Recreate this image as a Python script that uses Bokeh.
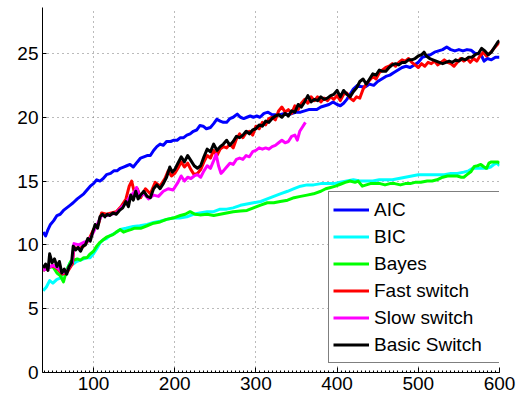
from bokeh.plotting import figure
from bokeh.models import SingleIntervalTicker, Range1d
from bokeh.embed import file_html
from bokeh.resources import INLINE

# ---------------- data ----------------
series_names = ["AIC", "BIC", "Bayes", "Fast switch", "Slow switch", "Basic Switch"]
series_colors = ["#0000ff", "#00ffff", "#00ff00", "#ff0000", "#ff00ff", "#000000"]

aic_x = [38, 41, 44, 47, 51, 55, 59, 63, 67, 71, 75, 80, 84, 88, 92, 96, 100, 104, 108, 112, 116,
         121, 125, 129, 133, 137, 141, 145, 149, 154, 158, 162, 166, 170, 174, 178, 182, 186, 190,
         195, 199, 203, 207, 211, 215, 219, 223, 227, 231, 235, 239, 244, 248, 252, 256, 260, 264,
         268, 272, 277, 281, 285, 289, 293, 297, 301, 305, 310, 315, 320, 325, 330, 335, 340, 345,
         350, 355, 360, 365, 370, 375, 380, 385, 390, 395, 400, 404, 408, 412, 416, 420, 425, 430,
         435, 440, 445, 450, 455, 460, 465, 470, 475, 480, 485, 490, 495, 500, 505, 510, 515, 520,
         525, 530, 535, 540, 545, 550, 555, 560, 565, 570, 574, 578, 581, 585, 590, 595, 600]
aic_y = [11.0, 10.7, 11.2, 11.6, 11.9, 12.3, 12.4, 12.7, 12.9, 13.1, 13.3, 13.6, 13.8, 14.0, 14.3,
         14.6, 14.8, 15.1, 15.0, 15.2, 15.5, 15.6, 15.8, 15.8, 16.0, 16.1, 16.2, 16.3, 16.1, 16.5,
         16.8, 16.9, 17.0, 17.0, 17.4, 17.7, 17.9, 17.8, 18.1, 18.1, 18.2, 18.2, 18.4, 18.4, 18.6,
         18.7, 18.9, 19.0, 19.35, 19.3, 19.1, 19.2, 19.5, 19.85, 19.7, 19.6, 19.6, 19.9, 20.0, 20.25,
         20.0, 19.9, 20.0, 20.1, 20.0, 20.1, 20.0, 20.3, 20.4, 20.2, 20.2, 20.2, 20.3, 20.2, 20.3,
         20.4, 20.4, 20.5, 20.6, 20.6, 20.6, 20.8, 20.9, 21.0, 21.2, 21.0, 20.9, 21.1, 21.4, 21.8,
         22.2, 22.5, 22.4, 22.4, 22.6, 22.5, 22.8, 23.0, 23.2, 23.3, 23.5, 23.7, 23.9, 24.0, 23.9,
         24.1, 24.3, 24.7, 24.8, 24.9, 25.1, 25.2, 25.3, 25.5, 25.3, 25.2, 25.3, 25.2, 25.3, 25.25,
         25.0, 25.0, 24.8, 24.4, 24.6, 24.5, 24.7, 24.7]

bic_x = [38, 42, 46, 50, 55, 59, 63, 67, 71, 75, 79, 84, 88, 92, 96, 100, 104, 108, 112, 116, 120,
         126, 133, 140, 149, 157, 166, 174, 182, 190, 198, 206, 215, 223, 231, 240, 248, 256, 264,
         272, 281, 289, 297, 306, 314, 322, 330, 339, 347, 355, 363, 371, 380, 388, 396, 404, 412,
         420, 428, 436, 444, 452, 460, 468, 476, 484, 492, 500, 508, 516, 524, 532, 540, 548, 556,
         562, 567, 572, 578, 584, 589, 593, 597, 600]
bic_y = [6.4, 6.7, 7.2, 7.0, 7.3, 7.4, 7.8, 8.0, 8.6, 8.5, 8.7, 8.8, 8.9, 9.0, 9.0, 9.3, 9.7, 10.15,
         10.4, 10.5, 10.7, 10.9, 11.2, 11.3, 11.45, 11.5, 11.6, 11.75, 11.85, 12.0, 12.1, 12.1, 12.2,
         12.4, 12.5, 12.6, 12.6, 12.8, 12.8, 12.9, 13.1, 13.2, 13.3, 13.4, 13.6, 13.8, 14.0, 14.2,
         14.4, 14.6, 14.7, 14.7, 14.8, 14.8, 14.8, 14.9, 15.0, 15.1, 15.0, 15.0, 15.0, 15.1, 15.1,
         15.1, 15.2, 15.3, 15.4, 15.5, 15.5, 15.5, 15.5, 15.5, 15.6, 15.6, 15.7, 15.8, 16.0, 16.0,
         16.0, 16.0, 16.1, 16.3, 16.4, 16.2]

bayes_x = [38, 44, 50, 55, 59, 63, 66, 69, 72, 76, 80, 84, 88, 92, 96, 100, 104, 108, 112, 116, 120,
           124, 128, 133, 137, 141, 146, 150, 158, 166, 174, 182, 190, 198, 207, 213, 219, 225, 231,
           240, 248, 256, 264, 272, 281, 289, 297, 305, 314, 322, 330, 339, 347, 355, 363, 371, 380,
           386, 392, 398, 404, 410, 416, 422, 426, 431, 436, 441, 447, 453, 459, 465, 471, 478, 484,
           490, 496, 503, 511, 517, 523, 530, 536, 542, 548, 553, 556, 560, 565, 569, 573, 577, 581,
           584, 587, 590, 594, 598, 600]
bayes_y = [8.0, 8.2, 8.3, 7.8, 7.6, 7.1, 7.8, 8.3, 8.7, 8.8, 8.9, 8.8, 9.0, 9.0, 9.3, 9.5, 9.9, 10.2,
           10.4, 10.6, 10.7, 10.8, 11.0, 11.2, 11.0, 11.1, 11.2, 11.3, 11.3, 11.5, 11.7, 11.8, 12.0,
           12.1, 12.3, 12.4, 12.6, 12.4, 12.35, 12.4, 12.3, 12.4, 12.5, 12.6, 12.65, 12.7, 12.9, 13.1,
           13.3, 13.3, 13.4, 13.5, 13.7, 13.8, 13.9, 14.0, 14.2, 14.4, 14.5, 14.6, 14.75, 14.9, 15.0,
           14.9, 15.0, 14.6, 14.7, 14.8, 14.8, 14.8, 14.7, 14.8, 14.8, 14.7, 14.8, 14.8, 14.9, 14.9,
           15.0, 15.0, 15.1, 15.3, 15.4, 15.4, 15.4, 15.3, 15.3, 15.5, 15.75, 16.15, 16.2, 16.3, 16.1,
           16.0, 16.4, 16.5, 16.5, 16.5, 16.4]

fast_x = [38, 44, 50, 56, 62, 68, 74, 76, 82, 88, 94, 100, 106, 110, 116, 122, 128, 134, 140, 144,
          147, 150, 154, 158, 164, 170, 176, 182, 188, 192, 196, 200, 204, 208, 212, 216, 220, 224,
          228, 232, 236, 240, 244, 248, 252, 256, 260, 264, 268, 272, 276, 280, 284, 288, 292, 296,
          300, 304, 308, 312, 316, 320, 324, 328, 332, 336, 340, 344, 348, 352, 356, 360, 364, 368,
          372, 376, 380, 384, 388, 392, 396, 400, 404, 408, 412, 416, 420, 424, 428, 432, 436, 440,
          444, 448, 452, 456, 460, 464, 468, 472, 476, 480, 484, 488, 492, 496, 500, 504, 508, 512,
          516, 520, 524, 528, 532, 536, 540, 544, 548, 552, 556, 560, 564, 568, 572, 576, 580, 584,
          588, 592, 596, 600]
fast_y = [8.0, 8.2, 8.4, 8.1, 7.7, 7.9, 8.5, 9.8, 9.7, 9.9, 10.4, 11.2, 11.6, 12.5, 12.4, 12.5, 12.6,
          13.0, 13.6, 14.6, 15.0, 14.2, 14.4, 13.7, 14.4, 14.0, 14.9, 14.6, 15.2, 15.8, 15.4, 15.6,
          16.0, 16.5, 16.1, 16.4, 15.9, 15.5, 15.6, 15.9, 16.5, 17.0, 16.8, 17.4, 17.0, 17.5, 17.7,
          17.6, 17.9, 17.6, 18.3, 18.7, 18.4, 18.8, 18.9, 18.6, 19.3, 19.1, 19.6, 19.4, 19.9, 20.0,
          19.8, 20.5, 20.8, 20.4, 20.6, 20.3, 20.9, 20.6, 21.1, 21.4, 21.1, 21.6, 21.3, 21.6, 21.2,
          21.5, 21.3, 21.6, 21.4, 21.7, 21.3, 21.8, 21.9, 21.5, 21.3, 21.6, 21.5, 22.2, 22.6, 22.9,
          23.2, 23.0, 23.5, 23.7, 23.9, 24.0, 24.2, 24.0, 24.3, 24.5, 24.4, 24.6, 24.3, 24.1, 23.9,
          24.2, 24.0, 24.3, 24.2, 24.4, 24.1, 24.3, 24.5, 24.3, 24.2, 24.0, 24.3, 24.6, 24.4, 24.6,
          24.3, 24.6, 24.4, 24.8, 25.1, 24.8, 25.0, 25.3, 25.6, 25.9]

slow_x = [38, 44, 50, 56, 62, 68, 74, 76, 82, 88, 94, 100, 106, 110, 116, 122, 128, 134, 140, 146,
          150, 153, 157, 162, 168, 174, 180, 186, 192, 198, 204, 208, 212, 216, 220, 224, 228, 232,
          236, 240, 244, 248, 251, 254, 257, 260, 264, 268, 272, 276, 280, 284, 288, 292, 296, 300,
          304, 308, 312, 316, 320, 324, 328, 332, 336, 340, 344, 348, 351, 354, 357, 361]
slow_y = [8.0, 8.2, 8.4, 8.2, 7.8, 8.0, 8.7, 10.1, 10.0, 10.2, 10.3, 11.0, 11.8, 12.3, 12.3, 12.4,
          12.5, 12.9, 13.3, 13.9, 14.1, 14.5, 13.8, 14.0, 13.6, 13.9, 13.8, 14.2, 14.4, 14.3, 14.9,
          15.4, 15.0, 15.3, 15.2, 15.4, 15.5, 15.3, 15.8, 16.2, 16.0, 16.6, 17.1, 16.2, 15.6, 15.8,
          16.1, 16.4, 16.3, 16.7, 16.8, 16.7, 17.0, 16.9, 17.3, 17.4, 17.6, 17.5, 17.6, 17.5, 17.7,
          17.8, 18.0, 18.2, 18.0, 18.1, 18.5, 18.6, 18.2, 18.9, 19.2, 19.6]

basic_x = [38, 41, 44, 46, 49, 52, 55, 58, 61, 64, 67, 70, 73, 75, 78, 81, 84, 87, 90, 93, 96, 99,
           102, 105, 108, 111, 114, 117, 120, 124, 128, 132, 136, 140, 143, 146, 149, 152, 155, 158,
           162, 166, 170, 174, 178, 182, 186, 190, 194, 197, 200, 204, 208, 212, 216, 220, 224, 228,
           232, 236, 240, 244, 248, 252, 256, 260, 264, 268, 272, 276, 280, 284, 288, 292, 296, 300,
           304, 308, 312, 316, 320, 324, 328, 332, 336, 340, 344, 348, 352, 356, 360, 364, 368, 372,
           376, 380, 384, 388, 392, 396, 400, 404, 408, 412, 416, 420, 424, 428, 432, 436, 440, 444,
           448, 452, 456, 460, 464, 468, 472, 476, 480, 484, 488, 492, 496, 500, 504, 507, 510, 514,
           518, 522, 526, 530, 534, 538, 542, 546, 550, 554, 558, 562, 566, 570, 574, 578, 582, 586,
           590, 594, 598, 600]
basic_y = [8.2, 8.5, 8.0, 9.3, 8.6, 8.9, 8.3, 8.7, 7.8, 8.1, 7.7, 8.3, 8.6, 9.9, 9.6, 9.8, 9.5, 9.9,
           10.0, 10.5, 10.3, 11.0, 11.6, 11.3, 12.2, 12.4, 12.2, 12.4, 12.3, 12.5, 12.4, 12.7, 12.9,
           13.4, 13.0, 13.9, 13.5, 14.2, 13.6, 13.9, 14.2, 13.8, 13.7, 14.4, 14.7, 14.4, 14.8, 15.3,
           16.1, 15.7, 15.9, 16.4, 16.9, 16.5, 17.0, 16.6, 16.2, 16.0, 16.2, 16.9, 17.5, 17.3, 17.9,
           17.4, 17.7, 17.9, 18.2, 17.8, 18.1, 18.5, 18.4, 18.6, 18.9, 18.7, 19.0, 19.1, 19.4, 19.3,
           19.7, 19.6, 19.9, 20.1, 20.2, 20.0, 20.3, 20.1, 20.5, 20.4, 21.0, 20.8, 21.2, 21.7, 21.2,
           21.4, 21.3, 21.6, 21.4, 21.5, 21.7, 21.8, 22.1, 21.6, 22.1, 21.8, 21.6, 22.0, 22.3, 22.8,
           23.0, 22.6, 23.0, 23.4, 23.3, 23.7, 23.6, 23.6, 23.9, 24.1, 24.2, 24.1, 24.3, 24.3, 24.5,
           24.5, 24.6, 24.8, 24.9, 25.1, 24.8, 24.6, 24.5, 24.4, 24.3, 24.2, 24.3, 24.4, 24.3, 24.5,
           24.4, 24.6, 24.5, 24.7, 24.7, 24.9, 25.0, 25.4, 25.2, 24.9, 25.1, 25.5, 25.9, 26.0]

x_ticks_interval = 100
y_ticks_interval = 5

# ---------------- figure ----------------
p = figure(width=520, height=404, output_backend="svg", toolbar_location=None,
           x_range=Range1d(37.2, 600), y_range=Range1d(0, 28.6),
           min_border_left=42, min_border_right=21, min_border_top=7, min_border_bottom=32)
p.outline_line_color = None
p.background_fill_color = "white"
p.border_fill_color = "white"

xs = [aic_x, bic_x, bayes_x, fast_x, slow_x, basic_x]
ys = [aic_y, bic_y, bayes_y, fast_y, slow_y, basic_y]
for xv, yv, name, col in zip(xs, ys, series_names, series_colors):
    p.line(xv, yv, line_color=col, line_width=3, legend_label=name, line_join="round")

FONT = "Liberation Sans"
for ax in (p.xaxis[0], p.yaxis[0]):
    ax.axis_line_color = "black"
    ax.axis_line_width = 1
    ax.major_tick_line_color = "black"
    ax.major_tick_out = 0
    ax.major_label_text_font = FONT
    ax.major_label_text_font_size = "19px"
    ax.major_label_text_color = "black"

p.xaxis.ticker = SingleIntervalTicker(interval=x_ticks_interval, num_minor_ticks=20)
p.xaxis.major_tick_in = 5
p.xaxis.minor_tick_in = 2
p.xaxis.minor_tick_out = 0
p.xaxis.minor_tick_line_color = "black"
p.xaxis.major_label_standoff = 4

p.yaxis.ticker = SingleIntervalTicker(interval=y_ticks_interval, num_minor_ticks=0)
p.yaxis.major_tick_in = 4
p.yaxis.minor_tick_line_color = None
p.yaxis.major_label_standoff = 4

for g in (p.xgrid[0], p.ygrid[0]):
    g.grid_line_color = "#777777"
    g.grid_line_dash = "1 4"
    g.grid_line_width = 1

lg = p.legend[0]
lg.location = (286, 9)
lg.margin = 0
lg.padding = 4
lg.spacing = 0
lg.label_height = 27
lg.glyph_height = 27
lg.glyph_width = 36
lg.label_standoff = 5
lg.label_width = 123
lg.label_text_font = FONT
lg.label_text_font_size = "19px"
lg.label_text_color = "black"
lg.border_line_color = "black"
lg.border_line_width = 1
lg.background_fill_color = "white"
lg.background_fill_alpha = 1

open("out.html", "w").write(file_html(p, INLINE))
